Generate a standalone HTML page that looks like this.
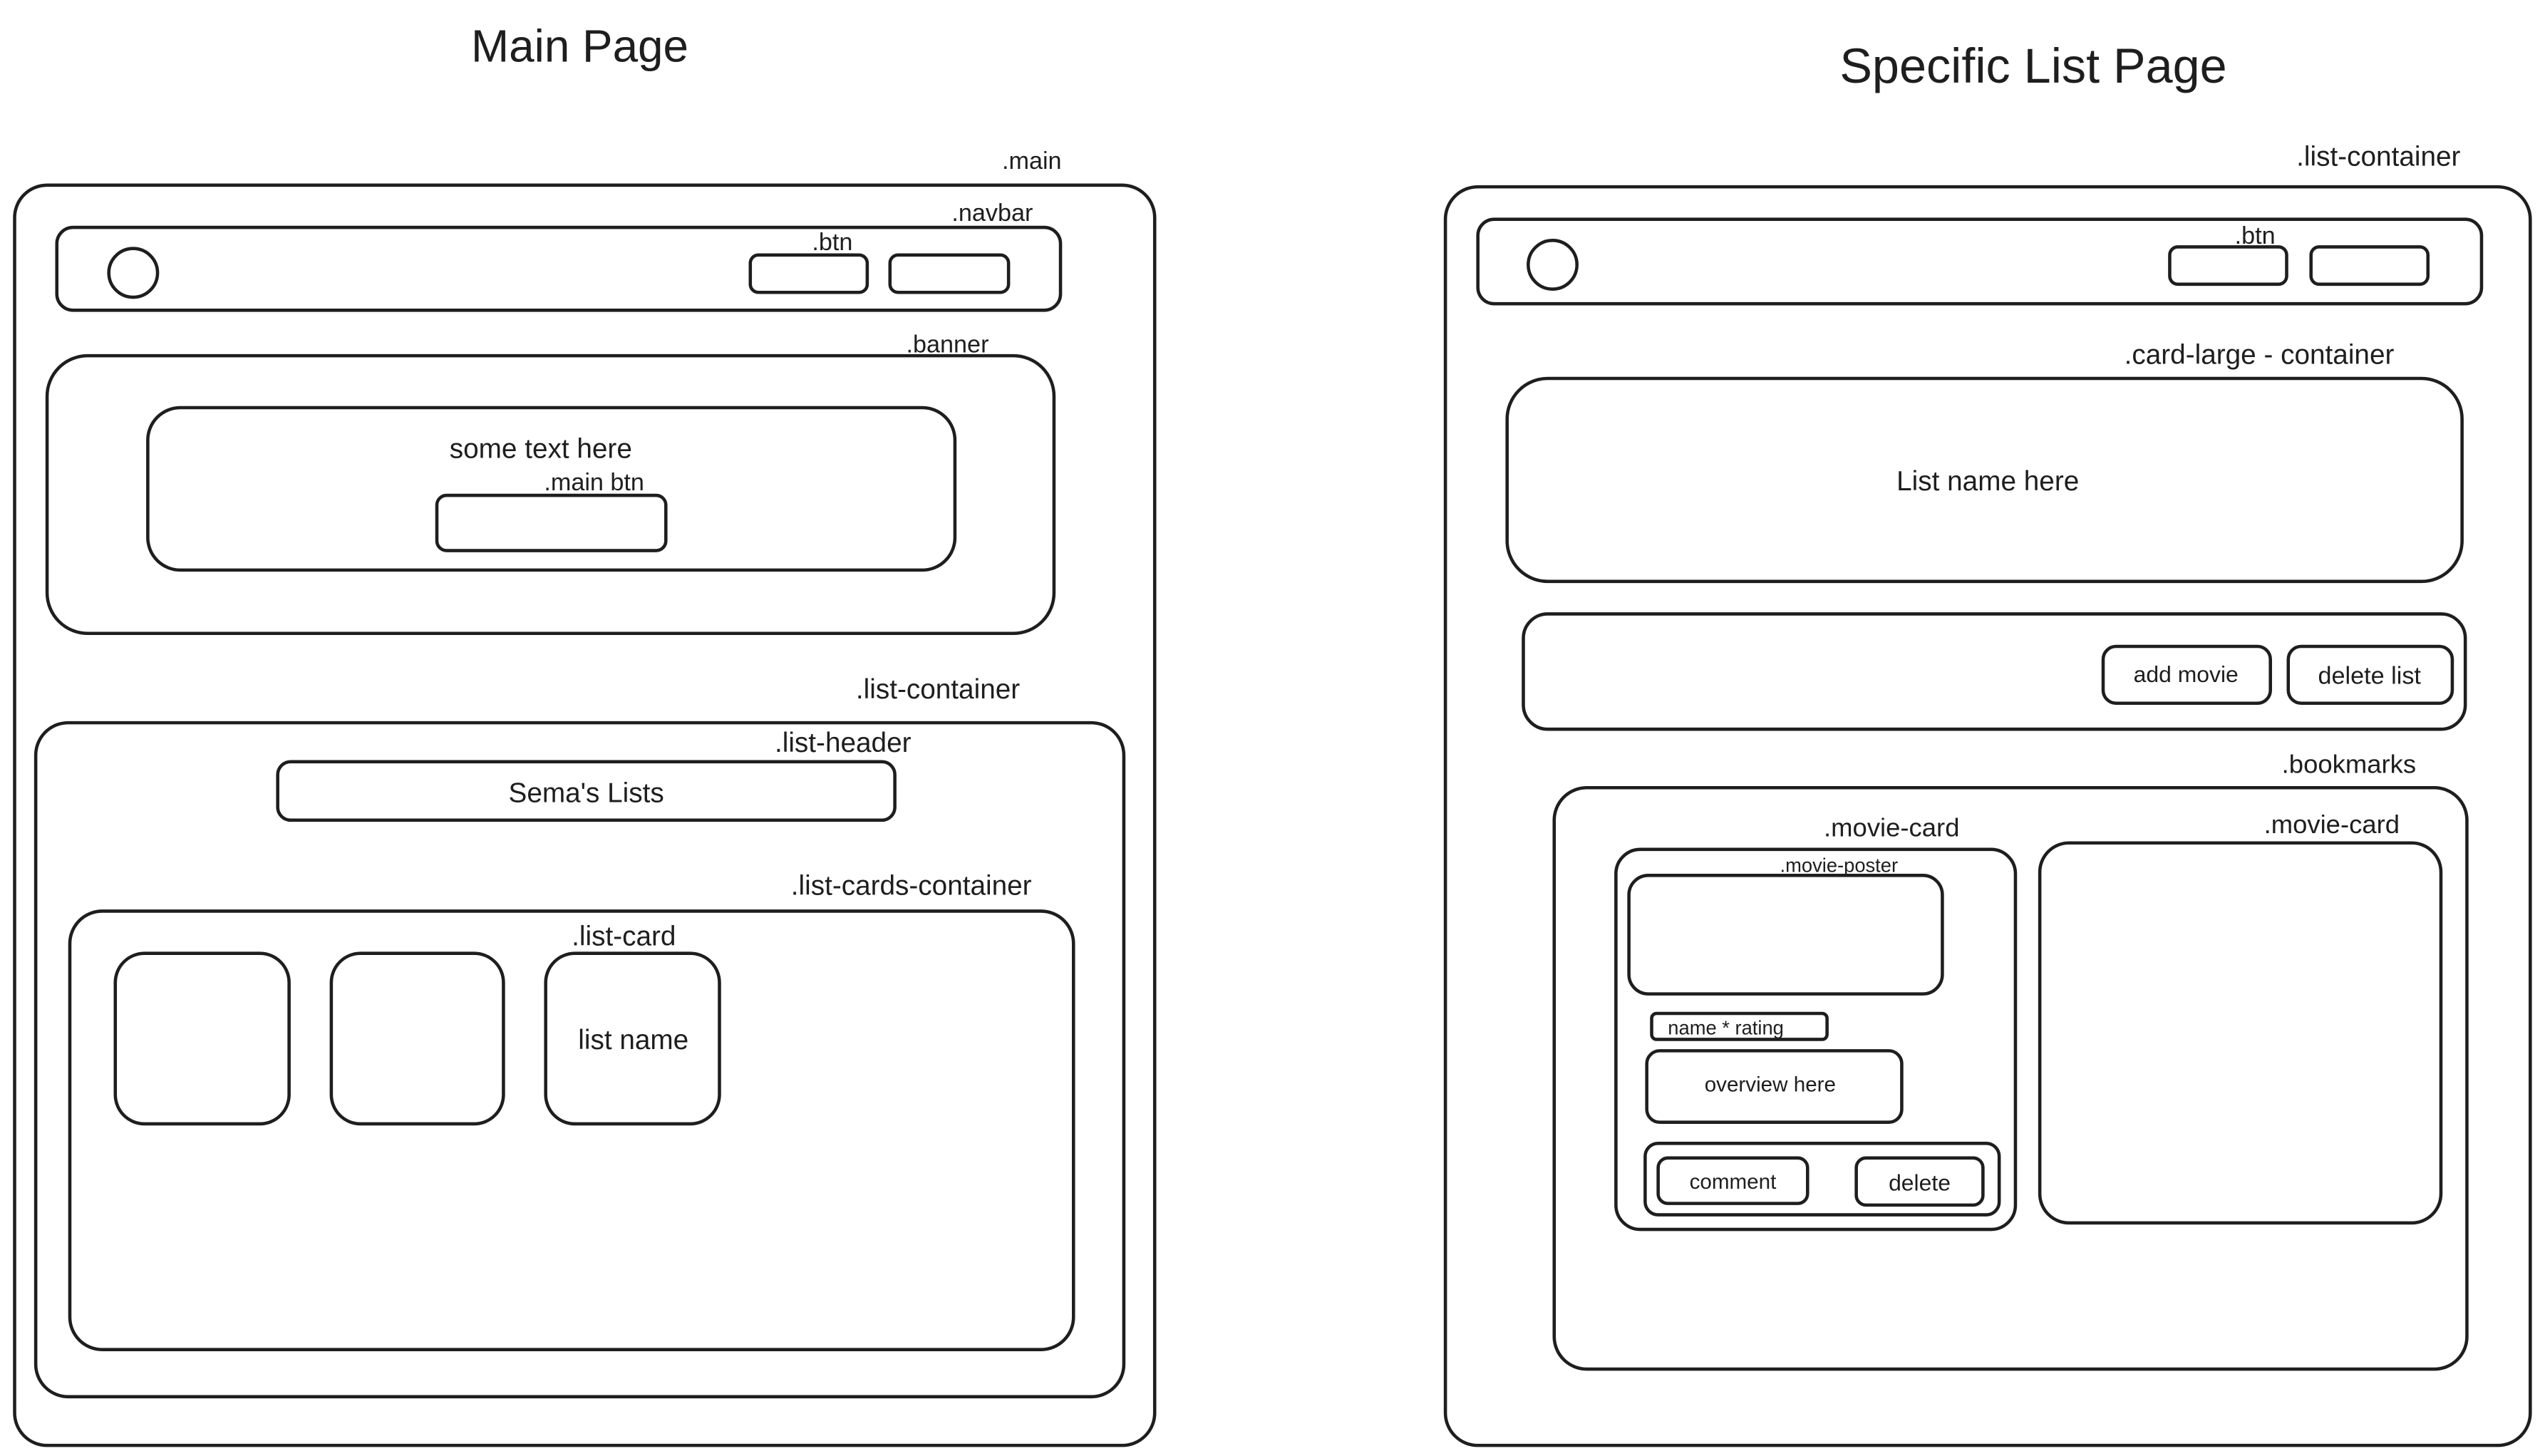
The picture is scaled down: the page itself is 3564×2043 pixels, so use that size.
<!DOCTYPE html>
<html><head><meta charset="utf-8"><style>
html,body{margin:0;padding:0;background:#fff;}
svg{display:block;}
text{font-family:"Liberation Sans",sans-serif;fill:#1e1e1e;}
rect,circle{fill:none;stroke:#1e1e1e;stroke-width:2;}
</style></head><body>
<svg width="3564" height="2043" viewBox="0 0 1564 896.5" xmlns="http://www.w3.org/2000/svg">
<rect x="0" y="0" width="1564" height="897" style="fill:#fff;stroke:none"/>
<text x="357" y="38" font-size="28" text-anchor="middle">Main Page</text>
<text x="1252" y="51" font-size="30" text-anchor="middle">Specific List Page</text>

<!-- Left -->
<text x="617" y="104" font-size="15">.main</text>
<rect x="9" y="114" width="702" height="776" rx="20"/>
<text x="586" y="136" font-size="15">.navbar</text>
<rect x="35" y="140" width="618" height="51" rx="10"/>
<circle cx="82" cy="168" r="15"/>
<text x="500" y="154" font-size="15">.btn</text>
<rect x="462" y="157" width="72" height="23" rx="5"/>
<rect x="548" y="157" width="73" height="23" rx="5"/>
<text x="558" y="217" font-size="15">.banner</text>
<rect x="29" y="219" width="620" height="171" rx="25"/>
<rect x="91" y="251" width="497" height="100" rx="20"/>
<text x="333" y="282" font-size="17" text-anchor="middle">some text here</text>
<text x="335" y="302" font-size="15">.main btn</text>
<rect x="269" y="305" width="141" height="34" rx="6"/>
<text x="527" y="430" font-size="17">.list-container</text>
<rect x="22" y="445" width="670" height="415" rx="20"/>
<text x="477" y="463" font-size="17">.list-header</text>
<rect x="171" y="469" width="380" height="36" rx="8"/>
<text x="361" y="494" font-size="17" text-anchor="middle">Sema's Lists</text>
<text x="487" y="551" font-size="17">.list-cards-container</text>
<rect x="43" y="561" width="618" height="270" rx="20"/>
<text x="352" y="582" font-size="17">.list-card</text>
<rect x="71" y="587" width="107" height="105" rx="18"/>
<rect x="204" y="587" width="106" height="105" rx="18"/>
<rect x="336" y="587" width="107" height="105" rx="18"/>
<text x="390" y="646" font-size="17" text-anchor="middle">list name</text>

<!-- Right -->
<text x="1414" y="102" font-size="17">.list-container</text>
<rect x="890" y="115" width="668" height="775" rx="20"/>
<rect x="910" y="135" width="618" height="52" rx="10"/>
<circle cx="956" cy="163" r="15"/>
<text x="1376" y="150" font-size="15">.btn</text>
<rect x="1336" y="152" width="72" height="23" rx="5"/>
<rect x="1423" y="152" width="72" height="23" rx="5"/>
<text x="1308" y="224" font-size="17">.card-large - container</text>
<rect x="928" y="233" width="588" height="125" rx="25"/>
<text x="1224" y="302" font-size="17" text-anchor="middle">List name here</text>
<rect x="938" y="378" width="580" height="71" rx="15"/>
<rect x="1295" y="398" width="103" height="35" rx="8"/>
<text x="1346" y="420" font-size="14" text-anchor="middle">add movie</text>
<rect x="1409" y="398" width="101" height="35" rx="8"/>
<text x="1459" y="421" font-size="15" text-anchor="middle">delete list</text>
<text x="1405" y="476" font-size="16">.bookmarks</text>
<rect x="957" y="485" width="562" height="358" rx="20"/>
<text x="1123" y="515" font-size="16">.movie-card</text>
<rect x="995" y="523" width="246" height="234" rx="15"/>
<text x="1096" y="537" font-size="12">.movie-poster</text>
<rect x="1003" y="539" width="193" height="73" rx="12"/>
<rect x="1017" y="624" width="108" height="16" rx="3"/>
<text x="1027" y="637" font-size="12">name * rating</text>
<rect x="1014" y="647" width="157" height="44" rx="8"/>
<text x="1090" y="672" font-size="13" text-anchor="middle">overview here</text>
<rect x="1013" y="704" width="218" height="44" rx="8"/>
<rect x="1021" y="713" width="92" height="28" rx="6"/>
<text x="1067" y="732" font-size="13" text-anchor="middle">comment</text>
<rect x="1143" y="713" width="78" height="29" rx="6"/>
<text x="1182" y="733" font-size="14" text-anchor="middle">delete</text>
<text x="1394" y="513" font-size="16">.movie-card</text>
<rect x="1256" y="519" width="247" height="234" rx="18"/>
</svg>
</body></html>
